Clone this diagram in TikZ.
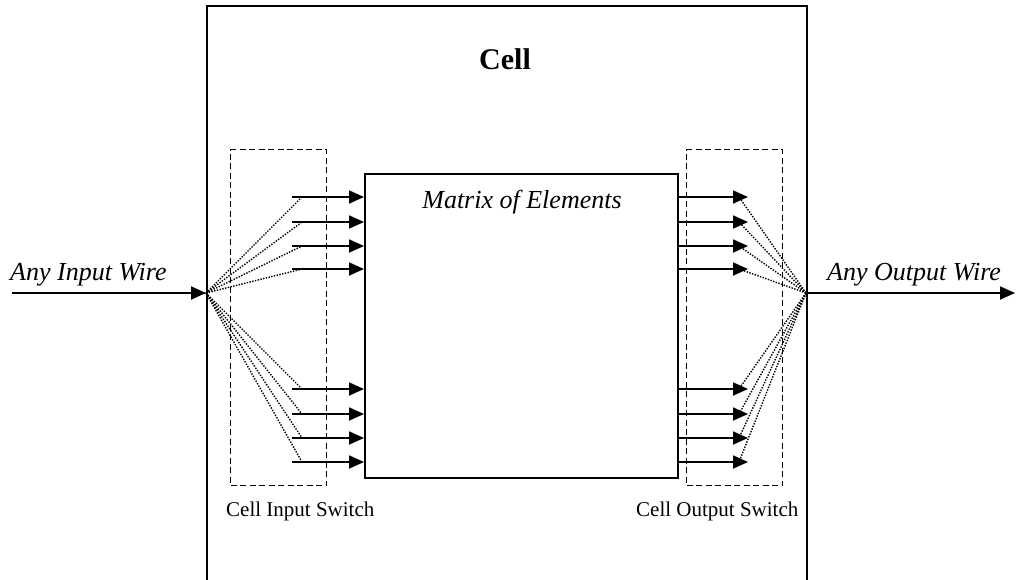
\documentclass[tikz,border=0pt]{standalone}
\usepackage{fontspec}
\setmainfont{Liberation Serif}
\usetikzlibrary{arrows.meta}
\begin{document}
\begin{tikzpicture}[x=1pt,y=-1pt,
  wire/.style={line width=1.8pt,-{Triangle[length=15pt,width=13pt]}},
  fan/.style={line width=1.4pt,dash pattern=on 1.4pt off 1.4pt},
  switchbox/.style={draw,line width=1.4pt,dash pattern=on 6pt off 3.5pt},
  solidbox/.style={draw,line width=1.8pt},
  lbl/.style={font=\fontsize{26}{30}\selectfont\itshape,inner sep=0pt},
  small/.style={font=\fontsize{21}{25}\selectfont,inner sep=0pt}]
\useasboundingbox (0,0) rectangle (1016,580);
\clip (0,0) rectangle (1016,580);

% outer cell (runs past the lower edge)
\node[solidbox,minimum width=600pt,minimum height=620pt,anchor=north west,inner sep=0pt] (cell) at (206,5) {};
\node[font=\fontsize{30}{34}\selectfont\bfseries,inner sep=0pt,anchor=base] (celltitle) at (505,70) {Cell};

% switch boxes
\node[switchbox,minimum width=96pt,minimum height=336pt,anchor=north west,inner sep=0pt] (isw) at (230,149) {};
\node[switchbox,minimum width=96pt,minimum height=336pt,anchor=north west,inner sep=0pt] (osw) at (686,149) {};
\node[small,anchor=base west] (iswlbl) at (226,516) {Cell Input Switch};
\node[small,anchor=base west] (oswlbl) at (636,516) {Cell Output Switch};

% matrix of elements
\node[solidbox,minimum width=313pt,minimum height=304pt,anchor=north west,inner sep=0pt] (mat) at (364,173) {};
\node[lbl,anchor=base] (matlbl) at (522,208) {Matrix of Elements};

% external wires
\coordinate (inwire) at (12,293);
\coordinate (outend) at (1015,293);
\coordinate (inhub) at (206,293);
\coordinate (outhub) at (806,293);
\draw[wire] (inwire) -- (inhub);
\draw[wire] (outhub) -- (outend);
\node[lbl,anchor=base west] (inlbl) at (10,280) {Any Input Wire};
\node[lbl,anchor=base west] (outlbl) at (827,280) {Any Output Wire};

% switch lines
\foreach \i/\y in {1/197,2/222,3/246,4/269,5/389,6/414,7/438,8/462}{
  \coordinate (ia\i) at (292,\y);
  \coordinate (if\i) at (302,\y);
  \coordinate (oa\i) at (748,\y);
  \coordinate (of\i) at (739,\y);
  \draw[wire] (ia\i) -- (ia\i -| mat.west);
  \draw[wire] (oa\i -| mat.east) -- (oa\i);
  \draw[fan] (inhub) -- (if\i);
  \draw[fan] (outhub) -- (of\i);
}
\end{tikzpicture}
\end{document}
